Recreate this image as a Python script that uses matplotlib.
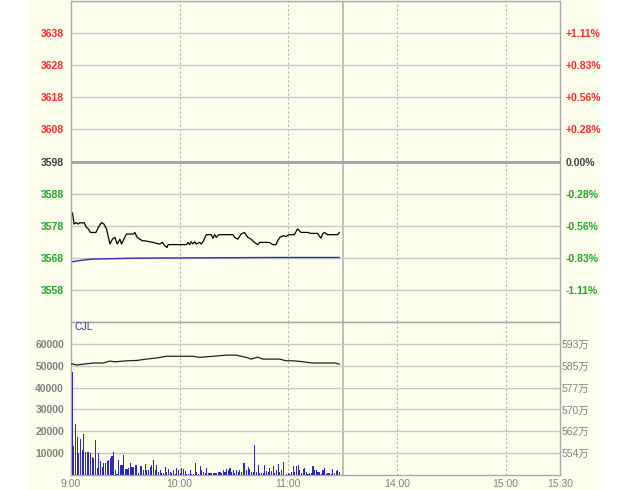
import matplotlib
matplotlib.use('Agg')
import matplotlib.pyplot as plt
from matplotlib.patches import Rectangle
import numpy as np

# ─── data ────────────────────────────────────────────────────────────────────
# minutes after 9:00 on a compressed session axis (11:30 break at 150)
price_t = [0.4, 0.9, 1.7, 2.8, 4.0, 5.0, 5.9, 7.2, 8.3, 9.5, 10.8, 13.8, 15.1, 16.9, 18.2,
           19.6, 21.5, 22.9, 24.2, 25.5, 27.0, 27.9, 29.7, 30.6, 34.3, 35.2, 36.5, 38.0, 39.5,
           40.7, 45.3, 47.2, 49.0, 50.5, 51.7, 53.0, 53.6, 63.7, 64.6, 65.5, 66.4, 67.3, 68.3,
           69.2, 71.0, 71.9, 73.2, 74.7, 77.4, 78.4, 79.3, 80.2, 81.7, 89.4, 90.3, 92.1, 93.9,
           95.8, 97.6, 99.4, 101.3, 103.1, 103.7, 104.0, 109.5, 111.4, 113.2, 114.1, 115.4,
           117.3, 118.7, 120.2, 123.3, 125.1, 127.0, 130.6, 132.5, 136.1, 138.0, 138.9, 139.8,
           141.7, 147.2, 148.1]
price_v = [3582.2, 3581.6, 3578.5, 3579.0, 3578.5, 3579.0, 3578.8, 3579.0, 3577.7, 3577.0,
           3575.9, 3575.9, 3577.5, 3579.0, 3578.5, 3577.0, 3572.3, 3573.8, 3574.4, 3572.3,
           3573.8, 3572.3, 3574.4, 3575.4, 3575.4, 3575.9, 3574.4, 3573.8, 3573.3, 3573.3,
           3572.8, 3572.5, 3572.3, 3572.8, 3571.8, 3571.2, 3572.1, 3572.1, 3572.8, 3572.1,
           3573.0, 3572.3, 3573.0, 3572.3, 3572.8, 3572.3, 3573.3, 3575.2, 3575.2, 3574.1,
           3575.2, 3574.4, 3575.2, 3575.2, 3574.4, 3573.8, 3575.4, 3575.9, 3574.4, 3573.8,
           3572.8, 3572.1, 3572.3, 3572.8, 3572.8, 3572.1, 3572.1, 3573.3, 3574.4, 3574.9,
           3574.6, 3575.2, 3575.2, 3577.0, 3575.9, 3575.9, 3575.6, 3575.6, 3574.1, 3575.4,
           3575.9, 3575.2, 3575.2, 3575.9]

avg_t = [0.4, 6.8, 12.3, 36.1, 113.2, 148.1]
avg_v = [3566.75, 3567.3, 3567.6, 3567.9, 3568.1, 3568.1]

volume = [46900, 13300, 23200, 17600, 9900, 16500, 11500, 18800, 10400, 10400,
          10400, 9900, 8400, 7600, 16100, 3400, 9900, 6600, 3800, 5700,
          5400, 6400, 6900, 7800, 8700, 10400, 2300, 300, 6900, 4600,
          4600, 9000, 2600, 2600, 3100, 5400, 3800, 3800, 4600, 4600,
          800, 4100, 4100, 2300, 5000, 2300, 2300, 3800, 4600, 6900,
          2300, 4600, 1500, 2300, 800, 800, 3500, 1500, 2600, 1500,
          800, 2300, 300, 3200, 2300, 800, 3100, 2600, 1800, 500,
          300, 2300, 300, 300, 5400, 1500, 500, 4100, 2300, 1500,
          1100, 3100, 1100, 800, 800, 800, 1100, 800, 1400, 1500,
          800, 2300, 1500, 2600, 2300, 3400, 1500, 2300, 800, 2300,
          1500, 2300, 1500, 5700, 5400, 2300, 3800, 2600, 1500, 1500,
          13800, 1500, 4600, 800, 1100, 800, 4600, 2000, 1500, 3100,
          1800, 4100, 800, 2300, 4900, 1500, 2300, 6100, 200, 300,
          800, 300, 1500, 4100, 1500, 4100, 4600, 2300, 800, 2600,
          3100, 1500, 300, 1100, 800, 4100, 2300, 2300, 1500, 1500,
          500, 2300, 3100, 300, 800, 800, 500, 2600, 1100, 2000,
          2300, 1500]

oi_t = [0.4, 3.1, 6.8, 12.3, 17.8, 21.5, 24.2, 30.6, 36.1, 41.7, 47.2, 52.7, 67.3, 71.0,
        78.4, 85.7, 91.2, 96.7, 99.4, 103.1, 105.9, 115.1, 118.7, 122.4, 126.1, 133.5,
        140.8, 146.3, 148.1]
oi_v = [585.96, 585.5, 585.8, 586.2, 586.2, 586.9, 586.6, 587.0, 587.1, 587.6, 588.0,
        588.6, 588.6, 588.2, 588.6, 589.0, 589.0, 588.2, 587.6, 588.3, 587.6, 587.6,
        587.0, 587.0, 586.8, 586.2, 586.2, 586.2, 585.8]

price_ticks = [3558, 3568, 3578, 3588, 3598, 3608, 3618, 3628, 3638]
pct_labels = ['-1.11%', '-0.83%', '-0.56%', '-0.28%', '0.00%',
              '+0.28%', '+0.56%', '+0.83%', '+1.11%']
vol_ticks = [10000, 20000, 30000, 40000, 50000, 60000]
oi_ticks = [554.25, 562.0, 569.75, 577.5, 585.25, 593.0]
oi_labels = ['554万', '562万', '570万', '577万', '585万', '593万']
x_ticks = [0, 60, 120, 180, 240, 270]
x_labels = ['9:00', '10:00', '11:00', '14:00', '15:00', '15:30']
prev_close = 3598

# ─── style ───────────────────────────────────────────────────────────────────
BG = '#FFFFEE'
GRID = '#C8C8C8'
RED = '#FF2828'
GREEN = '#22A822'
DARK = '#404040'
GRAY = '#808080'
FONT = ['Liberation Sans', 'Noto Sans CJK SC', 'DejaVu Sans']
plt.rcParams['font.family'] = FONT

fig = plt.figure(figsize=(6.3, 4.9), dpi=100, facecolor='white')
fig.patches.append(Rectangle((29 / 630, 0), 571 / 630, 1, transform=fig.transFigure,
                             facecolor=BG, edgecolor='none', zorder=-10))

L, W = 71 / 630, 489 / 630
ax1 = fig.add_axes([L, 168 / 490, W, 321 / 490])
ax2 = fig.add_axes([L, 15 / 490, W, 153 / 490])


def style_axes(ax):
    ax.set_facecolor(BG)
    for s in ax.spines.values():
        s.set_color('#A8A8A8')
        s.set_linewidth(1)
    ax.tick_params(length=0)
    ax.set_xlim(0, 270)
    for t in x_ticks[1:5]:
        ax.axvline(t, color='#B4B4B4', linestyle=(0, (2, 2)), linewidth=0.8, zorder=0)
    ax.axvline(150, color='#B4B4B4', linewidth=1.2, zorder=0)


# ─── price panel ────────────────────────────────────────────────────────────
style_axes(ax1)
ax1.set_ylim(3548, 3648)
for p in price_ticks:
    if p == prev_close:
        ax1.axhline(p, color='#A8A8A8', linewidth=2.2, zorder=0)
    else:
        ax1.axhline(p, color=GRID, linewidth=1, zorder=0)
ax1.plot(avg_t, avg_v, color='#3030B8', linewidth=1)
ax1.plot(price_t, price_v, color='black', linewidth=0.9)
ax1.set_xticks([])
ax1.set_yticks(price_ticks)
ax1.set_yticklabels([str(p) for p in price_ticks])
ax1r = ax1.twinx()
ax1r.set_ylim(ax1.get_ylim())
ax1r.set_yticks(price_ticks)
ax1r.set_yticklabels(pct_labels)
ax1r.tick_params(length=0)
for s in ax1r.spines.values():
    s.set_visible(False)
for axis in (ax1, ax1r):
    for lab, p in zip(axis.get_yticklabels(), price_ticks):
        lab.set_color(RED if p > prev_close else GREEN if p < prev_close else DARK)
        lab.set_fontsize(7.5)
        lab.set_fontweight('bold')
ax1.tick_params(axis='y', pad=5)
ax1r.tick_params(axis='y', pad=4)

# ─── volume panel ───────────────────────────────────────────────────────────
style_axes(ax2)
ax2.set_ylim(0, 70000)
for v in vol_ticks:
    ax2.axhline(v, color=GRID, linewidth=1, zorder=0)
# first bar sits just right of the 9:00 spine
bar_x = np.linspace(0.35, 148, len(volume))
ax2.bar(bar_x, volume, width=0.6, color='#2B2BB8', align='edge', linewidth=0, zorder=3)
ax2.set_yticks(vol_ticks)
ax2.set_yticklabels([str(v) for v in vol_ticks], color=GRAY, fontsize=7.5,
                    fontweight='bold')
ax2.tick_params(axis='y', pad=5)
ax2.set_xticks(x_ticks)
ax2.set_xticklabels(x_labels, color=GRAY, fontsize=7.5)
ax2.tick_params(axis='x', pad=3)
ax2.text(2, 67800, 'CJL', color='#3333CC', fontsize=7.5, va='center')

ax2r = ax2.twinx()
ax2r.set_ylim(546.5, 600.75)
ax2r.plot(oi_t, oi_v, color='#202020', linewidth=0.9)
ax2r.set_yticks(oi_ticks)
ax2r.set_yticklabels(oi_labels, color=GRAY, fontsize=7.5)
ax2r.tick_params(length=0, pad=1)
for s in ax2r.spines.values():
    s.set_visible(False)

plt.savefig('out.png', dpi=100, facecolor=fig.get_facecolor())
plt.close()
